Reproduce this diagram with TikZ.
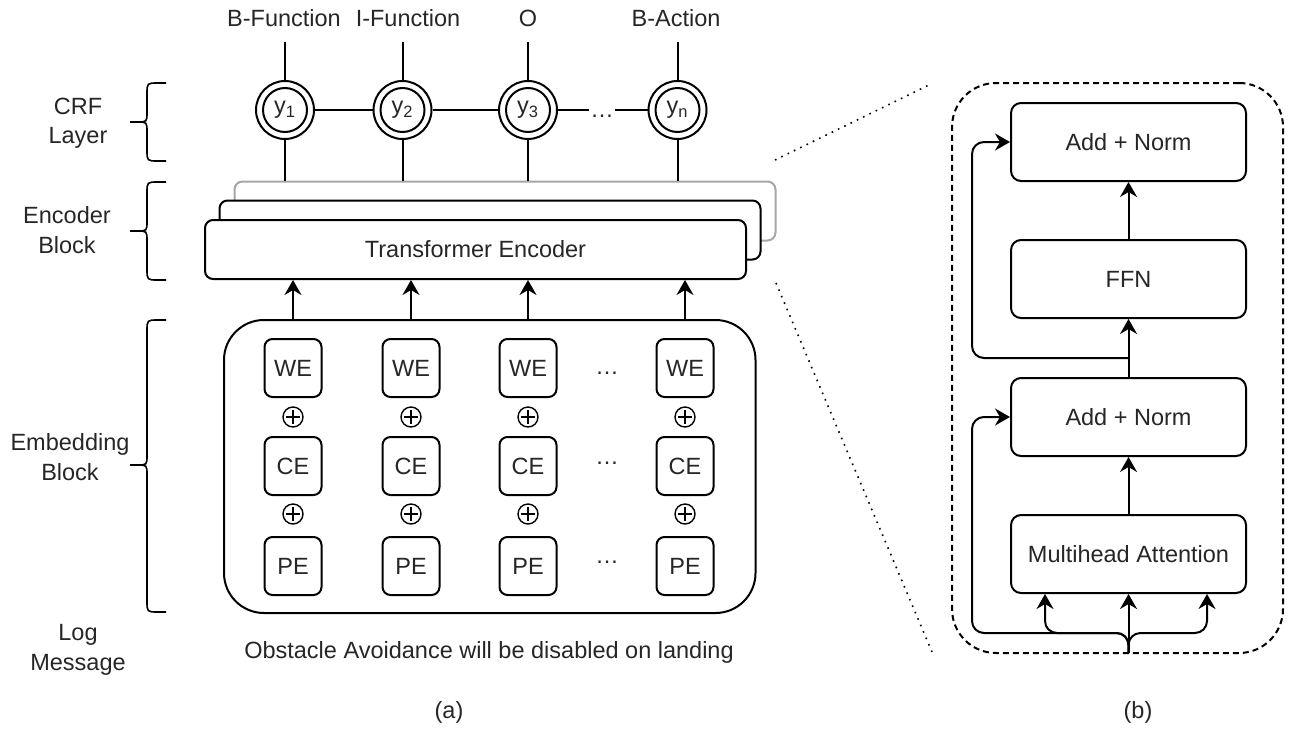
\documentclass[tikz,border=0pt]{standalone}
\usepackage{fontspec}
\setmainfont{Liberation Sans}
\usetikzlibrary{arrows.meta,calc}
% left-hand curly brace: top y, bottom y, tip y (pixel units of the picture)
\newcommand\sidebrace[3]{%
  \draw (166,#1) -- (158,#1) .. controls (147,#1) .. (147,{#1+11})
        -- (147,{#3-10}) .. controls (147,#3) .. (137,#3) -- (130,#3);
  \draw (130,#3) -- (137,#3) .. controls (147,#3) .. (147,{#3+10})
        -- (147,{#2-11}) .. controls (147,#2) .. (158,#2) -- (166,#2);}
\begin{document}
\begin{tikzpicture}[x=0.5pt,y=-0.5pt,
  every node/.style={font=\fontsize{11.75}{14.75}\selectfont, text=black!85},
  line width=1pt,
  arr/.style={-{Stealth[length=7.5pt,width=8.5pt,inset=2.5pt]}},
  box/.style={draw, rounded corners=4pt, fill=white, align=center, inner sep=0pt},
  emb/.style={box, minimum width=28.5pt, minimum height=29pt},
  layerbox/.style={box, rounded corners=5pt, minimum width=117.5pt, minimum height=39pt},
  encbox/.style={box, minimum width=270.5pt, minimum height=29.5pt},
  crf/.style={draw, circle, minimum size=29pt, inner sep=0pt},
  oplus/.style={draw, circle, minimum size=10pt, inner sep=0pt, line width=0.7pt,
    path picture={\draw[line width=0.7pt]
      ([xshift=-3.4pt]path picture bounding box.center) -- ([xshift=3.4pt]path picture bounding box.center)
      ([yshift=-3.4pt]path picture bounding box.center) -- ([yshift=3.4pt]path picture bounding box.center);}},
  gapdots/.style={inner sep=0pt},
  zoomline/.style={line width=0.8pt, dash pattern=on 0.8pt off 2.7pt},
  blockframe/.style={draw, line width=1pt, dash pattern=on 3pt off 2pt, rounded corners=22pt}
]
\useasboundingbox (0,0) rectangle (1293,728);

% ---------- (a) left side labels and braces ----------
\node[align=center] (lcrf) at (78,123) {CRF\\Layer};
\node[align=center] (lenc) at (67,230) {Encoder\\Block};
\node[align=center] (lemb) at (70,457) {Embedding\\Block};
\node[align=center] (llog) at (78,650) {Log\\Message};
\begin{scope}[line width=0.8pt]
\sidebrace{83}{161}{122}
\sidebrace{182}{280}{231}
\sidebrace{320}{612}{465}
\end{scope}

% ---------- stacked transformer encoders ----------
\node[encbox, draw=black!35] (encC) at (505,211) {};
\node[encbox] (encB) at (490,230) {};
\node[encbox] (encA) at (475.5,249.5) {Transformer Encoder};

% ---------- CRF layer ----------
\node (lab1) at (284,18) {B-Function};
\node (lab2) at (408,18) {I-Function};
\node (lab3) at (528,18) {O};
\node (lab4) at (676,18) {B-Action};

\node[crf] (y1) at (285,110) {y\textsubscript{1}};
\node[crf] (y2) at (402.5,110) {y\textsubscript{2}};
\node[crf] (y3) at (528,110) {y\textsubscript{3}};
\node[crf] (yn) at (677.5,110) {y\textsubscript{n}};
\foreach \c in {y1,y2,y3,yn} {\draw (\c) circle[radius=11pt];}
\node[gapdots] (cdots) at (602,116) {\ldots};

\coordinate (t1) at (285,42);
\coordinate (t2) at (402.5,42);
\coordinate (t3) at (528,42);
\coordinate (t4) at (677.5,42);
\draw (t1) -- (y1);
\draw (t2) -- (y2);
\draw (t3) -- (y3);
\draw (t4) -- (yn);
\draw (y1) -- (y2);
\draw (y2) -- (y3);
\draw (y3) -- (cdots.west |- y3);
\draw (cdots.east |- yn) -- (yn);
\foreach \c in {y1,y2,y3,yn} {\draw (\c) -- (\c |- encC.north);}

% ---------- embedding block ----------
\node[draw, rounded corners=20pt, minimum width=265.75pt, minimum height=146.5pt] (embbox) at (489.75,466.5) {};
\foreach \i/\x in {1/293,2/411,3/528,4/685} {
  \node[emb] (we\i) at (\x,368) {WE};
  \node[oplus] (pa\i) at (\x,417) {};
  \node[emb] (ce\i) at (\x,466) {CE};
  \node[oplus] (pb\i) at (\x,514) {};
  \node[emb] (pe\i) at (\x,566) {PE};
  \draw[arr] (we\i |- embbox.north) -- (we\i |- encA.south);
}
\node[gapdots] (wdots) at (607,373) {\ldots};
\node[gapdots] (cedots) at (607,463) {\ldots};
\node[gapdots] (pdots) at (607,562) {\ldots};

\node (sentence) at (489,652) {Obstacle Avoidance will be disabled on landing};
\node (capa) at (449,712) {(a)};

% ---------- (b) encoder layer detail ----------
\node[blockframe, minimum width=165.5pt, minimum height=285pt] (frame) at (1117.5,368) {};
\node[layerbox] (an2) at (1128.5,142) {Add + Norm};
\node[layerbox] (ffn) at (1128.5,279) {FFN};
\node[layerbox] (an1) at (1128.5,417) {Add + Norm};
\node[layerbox] (mha) at (1128.5,554) {Multihead Attention};

\draw[arr] (mha) -- (an1);
\draw[arr] (an1) -- (ffn);
\draw[arr] (ffn) -- (an2);

\coordinate (sk) at (972,0);
\coordinate (j2) at (1128.5,358);
\draw[arr, rounded corners=6pt] (j2) -| (sk |- an2) -- (an2.west);

\coordinate (in) at (1128.5,653);
\coordinate (j1) at (1128.5,633);
\draw[arr] (in) -- (mha);
\draw[arr, rounded corners=6pt] (in) -- (j1) -| ([xshift=-41.75pt]mha.south);
\draw[arr, rounded corners=6pt] (in) -- (j1) -| ([xshift=39.25pt]mha.south);
\draw[arr, rounded corners=6pt] (in) -- (j1) -| (sk |- an1) -- (an1.west);

\node (capb) at (1138,712) {(b)};

% ---------- zoom lines ----------
\coordinate (z1) at (775,160);
\coordinate (z2) at (931,84);
\coordinate (z3) at (776,283);
\coordinate (z4) at (932,652);
\draw[zoomline] (z1) -- (z2);
\draw[zoomline] (z3) -- (z4);
\end{tikzpicture}
\end{document}
